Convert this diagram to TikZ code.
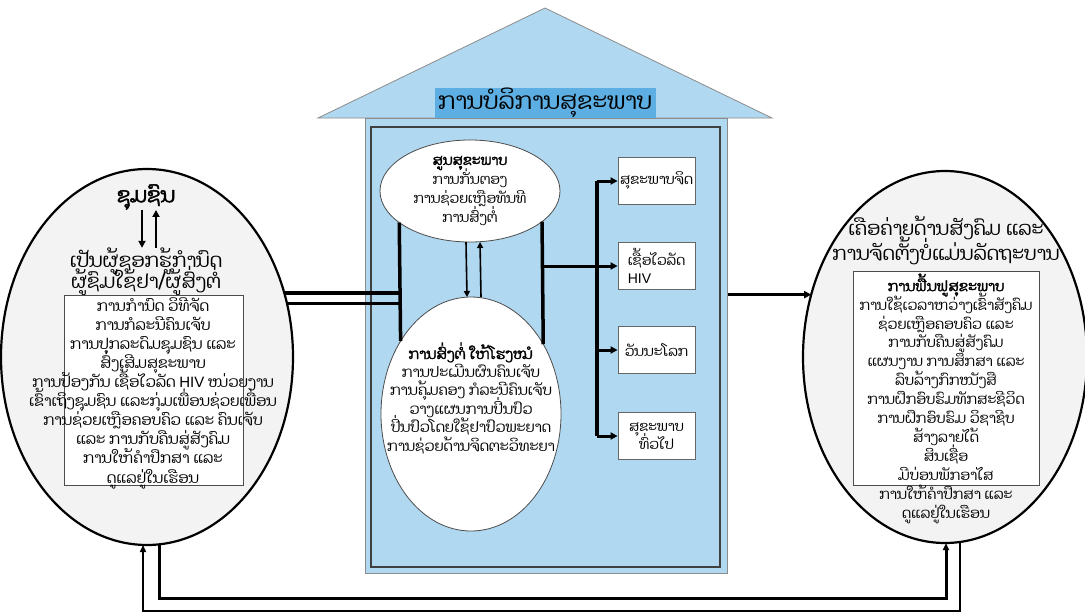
\documentclass[tikz,border=0pt]{standalone}
\usepackage{fontspec}
\setmainfont{Liberation Sans}
\newfontfamily\lao[Script=Lao,AutoFakeBold=2]{Dhyana}
\newfontfamily\lat{Liberation Sans}
\usetikzlibrary{shapes.geometric,arrows.meta}
\definecolor{lightblue}{RGB}{176,216,240}
\definecolor{titleblue}{RGB}{93,174,226}
\definecolor{ellgray}{RGB}{243,243,243}
\lineskiplimit=-100pt
\lineskip=0pt
\tikzset{
  bigell/.style={ellipse,draw=black,line width=2.2pt,fill=ellgray,inner sep=0pt,outer sep=0pt},
  whiteell/.style={ellipse,draw=black!70,line width=0.8pt,fill=white,inner sep=0pt,outer sep=0pt},
  txt/.style={font=\lao\fontsize{14}{19}\selectfont,align=center,inner sep=0pt},
  bigtxt/.style={font=\lao\fontsize{19}{22}\selectfont,align=center,inner sep=0pt},
  svcbox/.style={rectangle,draw=black!60,line width=0.8pt,fill=white,minimum width=77pt,minimum height=47pt,inner sep=2pt,font=\lao\fontsize{14}{18}\selectfont},
  listbox/.style={rectangle,draw=black!70,line width=0.9pt,fill=white,inner sep=0pt},
  conn/.style={line width=3.5pt},
  arr/.style={line width=3pt,-{Triangle[length=7pt,width=7pt]}},
}
\begin{document}
\begin{tikzpicture}[x=1pt,y=-1pt]
\useasboundingbox (0,0) rectangle (1085,614);
% house
\path[fill=lightblue,draw=black!45,line width=0.8pt] (318,118) -- (545,8) -- (772,118) -- cycle;
\node[rectangle,fill=lightblue,draw=black!45,line width=1pt,minimum width=362pt,minimum height=455pt,inner sep=0pt] (body) at (546,345.5) {};
\node[rectangle,draw=black!75,line width=1.2pt,minimum width=349pt,minimum height=440pt,inner sep=0pt] (inner) at (545.5,347) {};
\node[rectangle,fill=titleblue,minimum width=221pt,minimum height=28pt,inner sep=0pt,font=\lao\fontsize{23.5}{25}\selectfont] (title) at (545,103) {ການບໍລິການສຸຂະພາບ};

% big ellipses
\node[bigell,minimum width=292pt,minimum height=376pt] (leftE) at (147,357) {};
\node[bigell,minimum width=284pt,minimum height=372pt] (rightE) at (945,357) {};

% left ellipse content
\node[bigtxt,font=\lao\bfseries\fontsize{21}{22}\selectfont] (comm) at (146,197) {ຊຸມຊົນ};
\node[bigtxt,font=\lao\fontsize{19.5}{21}\selectfont] (head) at (146,272) {ເປັນຜູ້ຊອກຮູ້ກຳນົດ\\ຜູ້ຊົມໃຊ້ຢາ/ຜູ້ສົ່ງຕໍ່};
\node[listbox,minimum width=179pt,minimum height=190pt] (lbox) at (153.5,390) {};
\node[txt,font=\lao\fontsize{15}{19.1}\selectfont] (ltext) at (153,393) {ການກຳນົດ ວິທີຈັດ\\ການກໍລະນີຄົນເຈັບ\\ການປຸກລະດົມຊຸມຊົນ ແລະ\\ສົ່ງເສີມສຸຂະພາບ\\ການປ້ອງກັນ ເຊື້ອໄວລັດ {\lat HIV} ໜ່ວຍງານ\\ເຂົ້າເຖິງຊຸມຊົນ ແລະກຸ່ມເພື່ອນຊ່ວຍເພື່ອນ\\ການຊ່ວຍເຫຼືອຄອບຄົວ ແລະ ຄົນເຈັບ\\ແລະ ການກັບຄືນສູ່ສັງຄົມ\\ການໃຫ້ຄຳປຶກສາ ແລະ\\ດູແລຢູ່ໃນເຮືອນ};
\draw[line width=2pt,-{Triangle[length=7pt,width=7pt]}] ([xshift=-4pt]comm.south) -- ([xshift=-4pt]head.north);
\draw[line width=2pt,{Triangle[length=7pt,width=7pt]}-] ([xshift=10pt]comm.south) -- ([xshift=10pt]head.north);

% right ellipse content
\node[bigtxt,font=\lao\fontsize{19.3}{25}\selectfont] (rhead) at (946,240) {ເຄືອຄ່າຍດ້ານສັງຄົມ ແລະ\\ການຈັດຕັ້ງບໍ່ແມ່ນລັດຖະບານ};
\node[listbox,minimum width=186pt,minimum height=214pt] (rbox) at (946,378) {};
\node[txt,font=\lao\fontsize{14.3}{18.9}\selectfont] (rtext) at (946,398.5) {{\bfseries ການຟື້ນຟູສຸຂະພາບ}\\ການໃຊ້ເວລາຫວ່າງເຂົ້າສັງຄົມ\\ຊ່ວຍເຫຼືອຄອບຄົວ ແລະ\\ການກັບຄືນສູ່ສັງຄົມ\\ແຜນງານ ການສຶກສາ ແລະ\\ລົບລ້າງກົກໜັງສື\\ການຝຶກອົບຮົມທັກສະຊີວິດ\\ການຝຶກອົບຮົມ ວິຊາຊີບ\\ສ້າງລາຍໄດ້\\ສິນເຊື່ອ\\ມີບ່ອນພັກອາໄສ\\ການໃຫ້ຄຳປຶກສາ ແລະ\\ດູແລຢູ່ໃນເຮືອນ};

% inner ellipses
\node[whiteell,minimum width=180pt,minimum height=102pt] (topE) at (470,191) {};
\node[txt,font=\lao\fontsize{14}{19.3}\selectfont] (toptext) at (470,191) {{\bfseries ສູນສຸຂະພາບ}\\ການກັ່ນຕອງ\\ການຊ່ວຍເຫຼືອທັນທີ\\ການສົ່ງຕໍ່};
\node[whiteell,minimum width=180pt,minimum height=234pt] (lowE) at (471,414) {};
\node[txt,font=\lao\fontsize{14.5}{18.4}\selectfont] (lowtext) at (471,398) {{\bfseries ການສົ່ງຕໍ່ ໃຫ້ໂຮງໝໍ}\\ການປະເມີນຜົນຄົນເຈັບ\\ການຄຸ້ມຄອງ ກໍລະນີຄົນເຈັບ\\ວາງແຜນການປິ່ນປົວ\\ປິ່ນປົວໂດຍໃຊ້ຢາປົວພະຍາດ\\ການຊ່ວຍດ້ານຈິດຕະວິທະຍາ};

% service boxes
\node[svcbox] (b1) at (656.5,181) {ສຸຂະພາບຈິດ};
\node[svcbox,align=left] (b2) at (656.5,266) {ເຊື້ອໄວລັດ\\{\lat HIV}};
\node[svcbox] (b3) at (656.5,350) {ວັນນະໂລກ};
\node[svcbox,align=center] (b4) at (656.5,436) {ສຸຂະພາບ\\ທົ່ວໄປ};

% connectors inside house
\draw[conn] (topE.204.6) -- (lowE.134.6);
\draw[conn] (topE.337.8) -- (lowE.44.2);
\draw[line width=1.6pt,-{Triangle[length=6pt,width=6pt]}] ([xshift=-4pt]topE.south) -- ([xshift=-4pt]lowE.north);
\draw[line width=1.6pt,{Triangle[length=6pt,width=6pt]}-] ([xshift=10pt]topE.south) -- ([xshift=10pt]lowE.north);
\coordinate (bx) at (597,300);
\draw[arr] (topE.337.8 |- b2.west) -- (b2.west);
\draw[line width=3.5pt,line join=round] (b1.west -| bx) -- (b4.west -| bx);
\draw[arr] (b1.west -| bx) -- (b1.west);
\draw[arr] (b3.west -| bx) -- (b3.west);
\draw[arr] (b4.west -| bx) -- (b4.west);

% left double lines
\draw[conn] (leftE.25.3) -- (leftE.25.3 -| topE.204.6);
\draw[conn] (leftE.21.6) -- (leftE.21.6 -| topE.204.6);

% right arrow
\draw[arr] (rightE.155.2 -| body.east) -- (rightE.155.2);

% feedback loops
\draw[line width=3pt,-{Triangle[length=7pt,width=6pt]}] ([xshift=12pt]leftE.south) -- ++(0,53) -| ([xshift=1pt]rightE.south);
\draw[line width=1.5pt,-{Triangle[length=7pt,width=6pt]}] ([xshift=15pt]rightE.south) -- ++(0,68) -| ([xshift=-4pt]leftE.south);
\end{tikzpicture}
\end{document}
